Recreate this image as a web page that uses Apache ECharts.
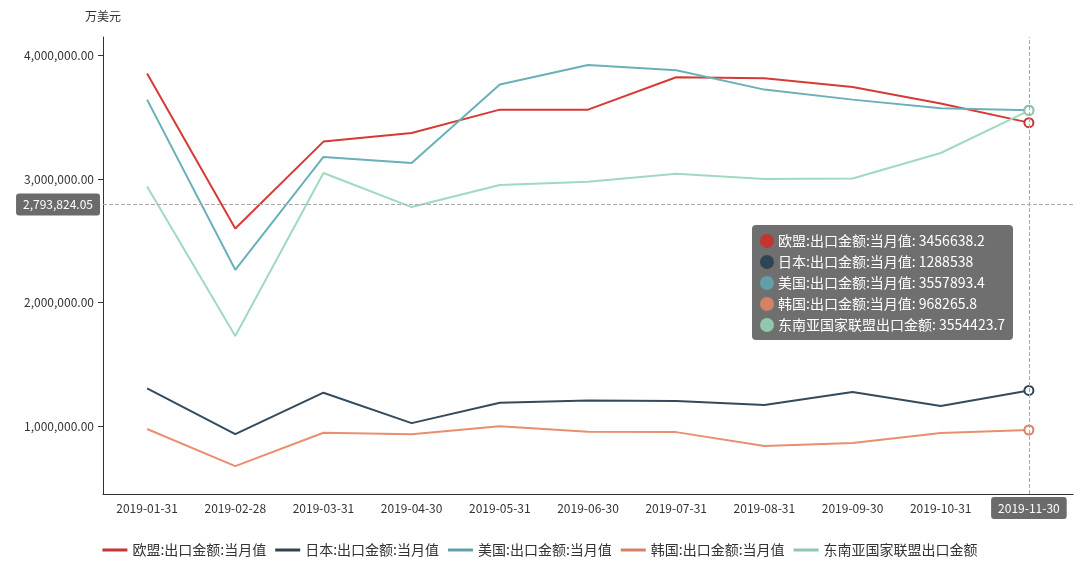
<!DOCTYPE html>
<html>
<head>
<meta charset="utf-8">
<script src="https://cdn.jsdelivr.net/npm/echarts@6/dist/echarts.min.js"></script>
<style>
html,body{margin:0;padding:0;background:#fff;}
#main{width:1080px;height:571px;}
</style>
</head>
<body>
<div id="main"></div>
<script>
const categories = ['2019-01-31','2019-02-28','2019-03-31','2019-04-30','2019-05-31','2019-06-30','2019-07-31','2019-08-31','2019-09-30','2019-10-31','2019-11-30'];
const seriesNames = ['欧盟:出口金额:当月值','日本:出口金额:当月值','美国:出口金额:当月值','韩国:出口金额:当月值','东南亚国家联盟出口金额'];
const euValues = [3854000, 2600000, 3303000, 3373000, 3562000, 3562000, 3824000, 3816000, 3746000, 3611000, 3456638.2];
const japanValues = [1306000, 935000, 1270000, 1024000, 1189000, 1208000, 1203000, 1170000, 1276000, 1162000, 1288538];
const usValues = [3643000, 2265000, 3179000, 3130000, 3765000, 3924000, 3881000, 3724000, 3643000, 3573000, 3557893.4];
const koreaValues = [976000, 676000, 946000, 933000, 998000, 954000, 951000, 838000, 862000, 943000, 968265.8];
const aseanValues = [2940000, 1730000, 3049000, 2773000, 2952000, 2978000, 3043000, 3000000, 3005000, 3211000, 3554423.7];
const yTickValues = [1000000, 2000000, 3000000, 4000000];
const yAxisName = '万美元';
const pointerCategoryIndex = 10;
const pointerYValue = 2793824.05;

const colors = ['#c23531','#2f4554','#61a0a8','#d48265','#91c7ae'];
const allValues = [euValues, japanValues, usValues, koreaValues, aseanValues];
const fontFamily = '"Noto Sans CJK SC", "Noto Sans", sans-serif';

function fmt(v){
  return Number(v).toLocaleString('en-US',{minimumFractionDigits:2, maximumFractionDigits:2});
}

const chart = echarts.init(document.getElementById('main'), null, {renderer:'canvas'});
const option = {
  animation: false,
  color: colors,
  textStyle: {fontFamily: fontFamily},
  grid: {left: 103, right: 7, top: 37, bottom: 77, containLabel: false},
  tooltip: {
    trigger: 'axis',
    alwaysShowContent: true,
    transitionDuration: 0,
    showDelay: 0,
    hideDelay: 100000,
    position: [752, 225],
    backgroundColor: 'rgba(50,50,50,0.7)',
    borderWidth: 0,
    padding: [5, 8],
    extraCssText: 'box-shadow:none;border-radius:4px;',
    textStyle: {color: '#fff', fontSize: 14, fontFamily: fontFamily},
    axisPointer: {
      type: 'cross',
      lineStyle: {color: '#aaa', type: 'dashed', width: 1},
      crossStyle: {color: '#aaa', type: 'dashed', width: 1},
      label: {backgroundColor: '#6b6b6b', color: '#fff', fontSize: 12, fontFamily: fontFamily, padding: [5, 7, 5, 7]}
    },
    formatter: function(params){
      return params.map(function(p){
        return '<div style="line-height:21px;white-space:nowrap;"><span style="display:inline-block;width:14px;height:14px;border-radius:7px;background:' + p.color + ';vertical-align:-2px;margin-right:4px;"></span>' + p.seriesName + ': ' + p.value + '</div>';
      }).join('');
    }
  },
  legend: {
    left: 'center',
    top: 538,
    icon: 'rect',
    itemWidth: 25,
    itemHeight: 3,
    itemGap: 9,
    textStyle: {color: '#333', fontSize: 14, fontFamily: fontFamily},
    data: seriesNames
  },
  xAxis: {
    type: 'category',
    boundaryGap: true,
    data: categories,
    axisLine: {lineStyle: {color: '#333'}},
    axisTick: {alignWithLabel: true, length: 5, lineStyle: {color: '#333'}},
    axisLabel: {color: '#333', fontSize: 12, margin: 8, interval: 0},
    splitLine: {show: false},
    axisPointer: {
      label: {formatter: function(p){ return p.value; }}
    }
  },
  yAxis: {
    type: 'value',
    name: yAxisName,
    nameLocation: 'end',
    nameGap: 15,
    nameTextStyle: {color: '#333', fontSize: 12, align: 'center'},
    min: 450000,
    max: 4150000,
    axisLine: {show: true, lineStyle: {color: '#333'}},
    axisTick: {show: true, length: 5, lineStyle: {color: '#333'}, customValues: yTickValues},
    axisLabel: {color: '#333', fontSize: 12, margin: 9, customValues: yTickValues, formatter: function(v){ return fmt(v); }},
    splitLine: {show: false},
    axisPointer: {
      label: {formatter: function(p){ return fmt(p.value); }}
    }
  },
  series: seriesNames.map(function(name, i){
    return {
      name: name,
      type: 'line',
      data: allValues[i],
      showSymbol: false,
      symbol: 'emptyCircle',
      symbolSize: 9,
      lineStyle: {width: 2, color: colors[i]},
      itemStyle: {color: colors[i], borderWidth: 1.5},
      emphasis: {scale: false, lineStyle: {width: 2}},
      z: 2
    };
  })
};
chart.setOption(option);

function showPointer(){
  const px = chart.convertToPixel({xAxisIndex: 0}, pointerCategoryIndex);
  const py = chart.convertToPixel({yAxisIndex: 0}, pointerYValue);
  chart.dispatchAction({type: 'showTip', x: px, y: py});
}
showPointer();
setTimeout(showPointer, 50);
</script>
</body>
</html>
